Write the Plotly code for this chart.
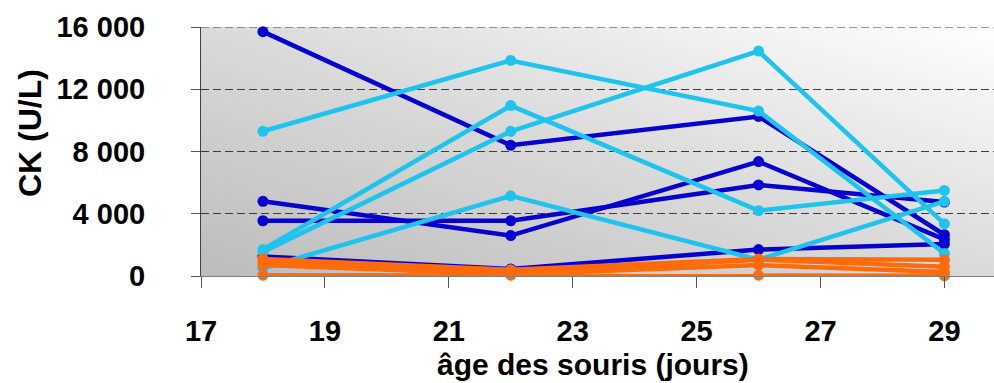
import base64
import plotly.graph_objects as go

# Age of the mice (days) at each sampling
days = [18, 22, 26, 29]

# CK activity (U/L) per mouse
dark_blue_series = [
    [15700, 8400, 10250, 2650],
    [4800, 2600, 7350, 2350],
    [3550, 3550, 5850, 4750],
    [1250, 450, 1700, 2050],
]
light_blue_series = [
    [9300, 13850, 10600, 1450],
    [1700, 10950, 4200, 5500],
    [1550, 9300, 14450, 3350],
    [500, 5150, 1050, 4800],
]
orange_series = [
    [1100, 400, 1100, 1050],
    [850, 200, 1050, 600],
    [700, 100, 700, 250],
    [50, 50, 50, 20],
]

y_tick_values = [0, 4000, 8000, 12000, 16000]
y_tick_labels = ["0", "4 000", "8 000", "12 000", "16 000"]
x_tick_values = [17, 19, 21, 23, 25, 27, 29]
x_tick_labels = ["17", "19", "21", "23", "25", "27", "29"]

DARK_BLUE = "#0800D0"
LIGHT_BLUE = "#1EC3EE"
ORANGE = "#FF6A0A"
GRID = "#3c3c3c"

W, H = 994, 383
M_L, M_R, M_T, M_B = 201, 0, 27, 107
PX_PER_DAY = 61.95
x_max = 17 + (W - M_L - M_R) / PX_PER_DAY

fig = go.Figure()

for group, color in ((dark_blue_series, DARK_BLUE),
                     (light_blue_series, LIGHT_BLUE),
                     (orange_series, ORANGE)):
    for values in group:
        fig.add_trace(go.Scatter(
            x=days, y=values, mode="lines+markers",
            line=dict(color=color, width=4.5),
            marker=dict(color=color, size=11),
            cliponaxis=False, showlegend=False, hoverinfo="x+y",
        ))

# Diagonal grey-to-white background of the plotting area
svg = (
    "<svg xmlns='http://www.w3.org/2000/svg' width='200' height='100' "
    "preserveAspectRatio='none'><defs><linearGradient id='g' x1='0' y1='1' "
    "x2='1' y2='0'><stop offset='0' stop-color='#bcbcbc'/>"
    "<stop offset='0.5' stop-color='#dadada'/>"
    "<stop offset='1' stop-color='#ffffff'/></linearGradient></defs>"
    "<rect width='200' height='100' fill='url(#g)'/></svg>"
)
bg_uri = "data:image/svg+xml;base64," + base64.b64encode(svg.encode()).decode()

tick_font = dict(family="Liberation Sans, Arial, sans-serif", size=29,
                 color="black", weight="bold")
x_title_font = dict(family="Liberation Sans, Arial, sans-serif", size=30,
                    color="black", weight="bold")
y_title_font = dict(family="Liberation Sans, Arial, sans-serif", size=32,
                    color="black", weight="bold")

fig.update_layout(
    width=W, height=H,
    margin=dict(l=M_L, r=M_R, t=M_T, b=M_B),
    paper_bgcolor="white",
    plot_bgcolor="rgba(0,0,0,0)",
    images=[dict(source=bg_uri, xref="paper", yref="paper", x=0, y=1,
                 sizex=1, sizey=1, xanchor="left", yanchor="top",
                 sizing="stretch", layer="below")],
    xaxis=dict(
        range=[17, x_max], tickmode="array",
        tickvals=x_tick_values, ticktext=x_tick_labels,
        ticks="outside", ticklen=11, tickcolor="#555555", tickwidth=1,
        ticklabelstandoff=18, tickfont=tick_font,
        showgrid=False, zeroline=False,
        showline=True, linecolor="#808080", linewidth=1,
        fixedrange=True,
    ),
    yaxis=dict(
        range=[0, 16000], tickmode="array",
        tickvals=y_tick_values, ticktext=y_tick_labels,
        ticks="outside", ticklen=9, tickcolor="#555555", tickwidth=1,
        ticklabelstandoff=40, tickfont=tick_font,
        showgrid=True, gridcolor=GRID, gridwidth=1, griddash="8px,4px",
        zeroline=False,
        showline=True, linecolor="#404040", linewidth=1,
        fixedrange=True,
    ),
    # top gridline sits on the edge of the plotting area
    shapes=[dict(type="line", xref="paper", yref="y",
                 x0=0, x1=1, y0=y_tick_values[-1], y1=y_tick_values[-1],
                 line=dict(color=GRID, width=1, dash="8px,4px"),
                 layer="between")],
    annotations=[
        dict(text="âge des souris (jours)", xref="paper", yref="paper",
             x=0.4937, y=-0.357, xanchor="center", yanchor="middle",
             showarrow=False, font=x_title_font),
        dict(text="CK (U/L)", xref="paper", yref="paper",
             x=-0.2156, y=0.574, xanchor="center", yanchor="middle",
             textangle=-90, showarrow=False, font=y_title_font),
    ],
)

fig.write_html("out.html", config={"displayModeBar": False})
